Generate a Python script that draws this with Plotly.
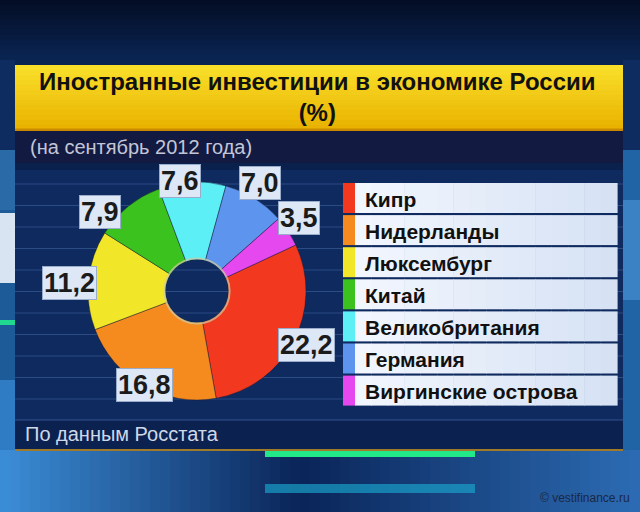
import math
import plotly.graph_objects as go

# ---- data ----
categories = ["Кипр", "Нидерланды", "Люксембург", "Китай",
              "Великобритания", "Германия", "Виргинские острова"]
values = [22.2, 16.8, 11.2, 7.9, 7.6, 7.0, 3.5]
colors = ["#f2381e", "#f58a1e", "#f2e628", "#3cc21e", "#5cf0f6", "#5c94ee", "#e448ee"]

title_text = "Иностранные инвестиции в экономике России<br>(%)"
subtitle_text = "(на сентябрь 2012 года)"
source_text = "По данным Росстата"
watermark_text = "© vestifinance.ru"

# ---- layout helpers (pixel -> paper) ----
W, H = 640, 512
def px(x):
    return x / W
def py(y):
    return 1 - y / H

shapes = []
annotations = []

def rect(x0, y0, x1, y1, fill, opacity=1.0):
    shapes.append(dict(type="rect", xref="paper", yref="paper",
                       x0=px(x0), x1=px(x1), y0=py(y1), y1=py(y0),
                       fillcolor=fill, opacity=opacity, layer="below",
                       line=dict(width=0)))

def lerp_color(c1, c2, t):
    a = [int(c1[i:i + 2], 16) for i in (1, 3, 5)]
    b = [int(c2[i:i + 2], 16) for i in (1, 3, 5)]
    return "#" + "".join(f"{round(a[k] + (b[k] - a[k]) * t):02x}" for k in range(3))

# background
rect(0, 0, 640, 512, "#0a2452")
for i in range(12):
    rect(0, i * 5, 640, i * 5 + 5.5, lerp_color("#040e26", "#0a2452", i / 11))
# bottom area: bright left, dark centre, medium right
for i in range(64):
    xc = i * 10 + 5
    if xc < 300:
        c = lerp_color("#3c8ed8", "#0a2458", xc / 300)
    else:
        c = lerp_color("#0a2458", "#2c6cb4", (xc - 300) / 340)
    rect(i * 10, 450, i * 10 + 10.5, 512, c)
# left strip
rect(0, 60, 15, 450, "#1d5a98")
rect(0, 60, 15, 150, "#0e2c60")
rect(0, 150, 15, 210, "#2a6aa6")
rect(0, 213, 15, 283, "#e8f0f8", 0.92)
rect(0, 320, 15, 325, "#20d890")
rect(0, 380, 15, 450, "#2f7cc4")
# right strip
rect(623, 60, 640, 450, "#2064a6")
rect(623, 60, 640, 150, "#0e2c60")
rect(623, 200, 640, 300, "#3a82c4")
rect(265, 450, 475, 457, "#22e88a")
rect(265, 484, 475, 493, "#1aa8d0", 0.65)

# panel: yellow title band with vertical gradient
n = 13
for i in range(n):
    y0 = 65 + i * 65 / n
    rect(15, y0, 623, y0 + 65 / n + 0.6, lerp_color("#f9df2a", "#e9b200", i / (n - 1)))
rect(15, 128.5, 623, 131, "#c98a00")
# subtitle band
rect(15, 131, 623, 163, "#131a42")
# body
rect(15, 163, 623, 420, "#0e2a5e")
rect(15, 163, 623, 170, "#0a1f4a", 0.8)
for k in range(12):
    yl = 184 + 21.5 * k
    shapes.append(dict(type="line", xref="paper", yref="paper",
                       x0=px(15), x1=px(623), y0=py(yl), y1=py(yl),
                       line=dict(color="rgba(100,140,210,0.35)", width=1), layer="below"))
# footer band
rect(15, 420, 623, 450, "#0b2250")
shapes.append(dict(type="line", xref="paper", yref="paper",
                   x0=px(15), x1=px(623), y0=py(420), y1=py(420),
                   line=dict(color="rgba(100,140,210,0.45)", width=1), layer="below"))
rect(15, 449, 623, 451, "#a07a28")

# ---- pie ----
cx, cy, R = 197, 291, 109
hole = 0.29
rotation = 65
total = sum(values)

pie = go.Pie(
    labels=categories, values=values, sort=False, direction="clockwise",
    rotation=rotation, hole=hole, textinfo="none", hoverinfo="label+value",
    marker=dict(colors=colors, line=dict(color="rgba(20,25,50,0.55)", width=0.8)),
    domain=dict(x=[px(cx - R), px(cx + R)], y=[py(cy + R), py(cy - R)]),
    showlegend=False,
)

# inner rim of the hole
shapes.append(dict(type="circle", xref="paper", yref="paper",
                   x0=px(cx - R * hole - 1), x1=px(cx + R * hole + 1),
                   y0=py(cy + R * hole + 1), y1=py(cy - R * hole - 1),
                   line=dict(color="rgba(210,205,160,0.7)", width=2), layer="above"))

# value labels in boxes, positioned from slice mid-angles
label_radius = [1.11, 0.97, 1.17, 1.16, 1.04, 1.16, 1.16]
label_nudge_deg = [2, 0, 1, 11, 6, 2, 3]
start = 90 - rotation
cum = 0
for i, v in enumerate(values):
    mid = start - 360 * (cum + v / 2) / total + label_nudge_deg[i]
    cum += v
    r = R * label_radius[i]
    lx = cx + r * math.cos(math.radians(mid))
    ly = cy - r * math.sin(math.radians(mid)) + 2
    annotations.append(dict(
        x=px(lx), y=py(ly), xref="paper", yref="paper",
        text=f"{v:.1f}".replace(".", ","), showarrow=False,
        font=dict(family="Liberation Sans", size=27, color="#1b1b1b", weight="bold"),
        bgcolor="#dde7f6", bordercolor="#9aaccc", borderwidth=1, borderpad=1,
        xanchor="center", yanchor="middle"))

# ---- legend rows ----
row_top, pitch, row_h = 183, 32.1, 30
for i, (name, col) in enumerate(zip(categories, colors)):
    y0 = row_top + i * pitch
    rect(343, y0, 355, y0 + row_h, col)
    for j in range(16):
        xa = 355 + j * (262 / 16)
        rect(xa, y0, xa + 262 / 16 + 0.6, y0 + row_h, lerp_color("#f2f6fe", "#d6e2f4", j / 15))
    annotations.append(dict(
        x=px(363), y=py(y0 + row_h / 2 + 1), xref="paper", yref="paper",
        text=name, showarrow=False, xanchor="left", yanchor="middle",
        font=dict(family="Liberation Sans", size=21, color="#111111", weight="bold")))

# ---- texts ----
annotations.append(dict(
    x=px(317), y=py(97), xref="paper", yref="paper", text=title_text,
    showarrow=False, xanchor="center", yanchor="middle", align="center",
    font=dict(family="Liberation Sans", size=24, color="#111111", weight="bold")))
annotations.append(dict(
    x=px(28), y=py(147), xref="paper", yref="paper", text=subtitle_text,
    showarrow=False, xanchor="left", yanchor="middle",
    font=dict(family="Liberation Sans", size=20, color="#c4c6d6")))
annotations.append(dict(
    x=px(23), y=py(434), xref="paper", yref="paper", text=source_text,
    showarrow=False, xanchor="left", yanchor="middle",
    font=dict(family="Liberation Sans", size=20, color="#d0d8e8")))
annotations.append(dict(
    x=px(632), y=py(498), xref="paper", yref="paper", text=watermark_text,
    showarrow=False, xanchor="right", yanchor="middle",
    font=dict(family="Liberation Sans Narrow, Liberation Sans", size=12, color="#1a2844")))

fig = go.Figure(pie)
fig.update_layout(
    width=W, height=H, margin=dict(l=0, r=0, t=0, b=0),
    paper_bgcolor="#0a2452", plot_bgcolor="#0a2452",
    shapes=shapes, annotations=annotations, showlegend=False,
)
fig.write_html("out.html", config={"displayModeBar": False},
               post_script="document.body.style.margin='0';document.body.style.overflow='hidden';")
